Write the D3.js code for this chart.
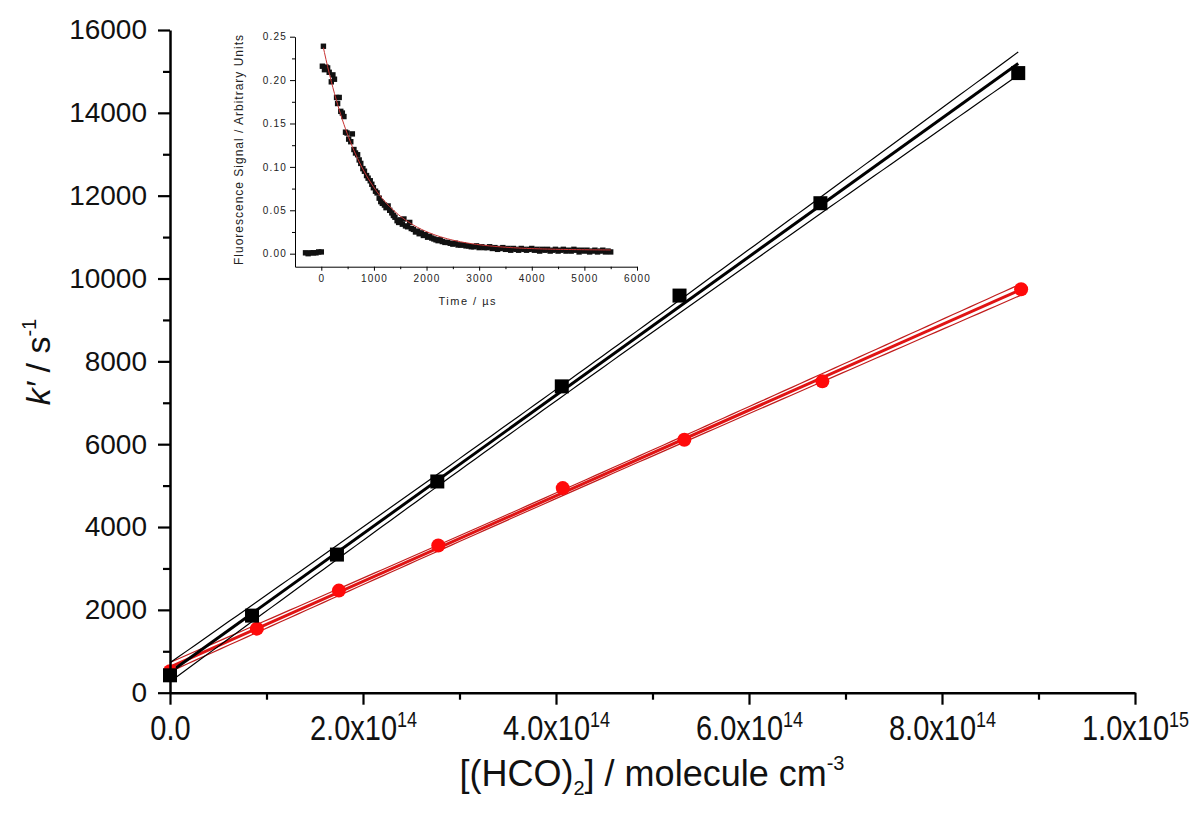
<!DOCTYPE html>
<html>
<head>
<meta charset="utf-8">
<script src="https://cdn.jsdelivr.net/npm/d3@7"></script>
<style>
  body { margin: 0; background: #fff; }
  svg { display: block; font-family: Arial, "Liberation Sans", sans-serif; }
</style>
</head>
<body>
<svg id="chart" width="1190" height="818"></svg>
<script>
// main plot: k' vs [(HCO)2]
const concBlack = [0, 0.85e14, 1.73e14, 2.77e14, 4.06e14, 5.28e14, 6.74e14, 8.79e14];
const kBlack = [420, 1861, 3335, 5100, 7396, 9588, 11818, 14960];
const concRed = [0, 0.90e14, 1.75e14, 2.78e14, 4.07e14, 5.33e14, 6.76e14, 8.82e14];
const kRed = [520, 1547, 2465, 3553, 4940, 6108, 7517, 9740];

const yTicks = [0, 2000, 4000, 6000, 8000, 10000, 12000, 14000, 16000];
const yMinor = [1000, 3000, 5000, 7000, 9000, 11000, 13000, 15000];
const xTicks = [0, 2e14, 4e14, 6e14, 8e14, 1e15];
const xTickLabels = [["0.0", ""], ["2.0x10", "14"], ["4.0x10", "14"], ["6.0x10", "14"], ["8.0x10", "14"], ["1.0x10", "15"]];
const xMinor = [1e14, 3e14, 5e14, 7e14, 9e14];

// inset: fluorescence decay trace
const decayTrace = [
  [-300,0.001],[-250,0.000],[-200,0.001],[-150,0.001],[-100,0.001],[-50,0.002],[0,0.002],
  [20,0.216],[40,0.239],[60,0.212],[90,0.215],[120,0.214],[150,0.209],[190,0.198],[220,0.206],
  [250,0.201],[290,0.180],[310,0.173],[340,0.180],[370,0.164],[400,0.162],[430,0.158],[460,0.140],
  [490,0.139],[520,0.132],[560,0.129],[590,0.138],[620,0.120],[650,0.116],[690,0.114],[720,0.108],
  [750,0.104],[790,0.098],[820,0.095],[860,0.090],[890,0.087],[930,0.084],[960,0.080],[990,0.076],
  [1030,0.072],[1060,0.070],[1100,0.064],[1130,0.060],[1160,0.058],[1200,0.056],[1230,0.053],
  [1270,0.055],[1300,0.050],[1340,0.047],[1370,0.044],[1400,0.042],[1440,0.038],[1470,0.036],
  [1500,0.039],[1540,0.034],[1570,0.040],[1600,0.032],[1640,0.031],[1680,0.036],[1710,0.029],
  [1750,0.028],[1790,0.025],[1830,0.026],[1860,0.023],[1900,0.024],[1940,0.021],[1980,0.022],
  [2020,0.019],[2060,0.020],[2100,0.018],[2140,0.017],[2180,0.016],[2220,0.015],[2260,0.016],
  [2300,0.014],[2350,0.013],[2400,0.013],[2450,0.012],[2500,0.011],[2550,0.012],[2600,0.010],
  [2650,0.010],[2700,0.010],[2750,0.009],[2800,0.009],[2850,0.008],[2900,0.008],[2950,0.009],
  [3000,0.007],[3050,0.008],[3100,0.007],[3150,0.007],[3200,0.008],[3250,0.006],[3300,0.007],
  [3350,0.005],[3400,0.006],[3450,0.007],[3500,0.005],[3550,0.006],[3600,0.004],[3650,0.006],
  [3700,0.005],[3750,0.004],[3800,0.006],[3850,0.005],[3900,0.004],[3950,0.005],[4000,0.006],
  [4050,0.004],[4100,0.005],[4150,0.003],[4200,0.005],[4250,0.004],[4300,0.005],[4350,0.003],
  [4400,0.004],[4450,0.005],[4500,0.003],[4550,0.004],[4600,0.005],[4650,0.003],[4700,0.004],
  [4750,0.003],[4800,0.005],[4850,0.004],[4900,0.002],[4950,0.004],[5000,0.003],[5050,0.004],
  [5100,0.002],[5150,0.003],[5200,0.004],[5250,0.002],[5300,0.003],[5350,0.004],[5400,0.002],
  [5450,0.003],[5500,0.002]
];
// single-exponential fit parameters
const decayA = 0.245, decayTau = 820, decayBase = 0.004;
const insetYTicks = [0, 0.05, 0.10, 0.15, 0.20, 0.25];
const insetYMinor = [0.025, 0.075, 0.125, 0.175, 0.225];
const insetXTicks = [0, 1000, 2000, 3000, 4000, 5000, 6000];
const insetXMinor = [500, 1500, 2500, 3500, 4500, 5500];

const svg = d3.select("#chart");
svg.append("rect").attr("width", 1190).attr("height", 818).attr("fill", "#fff");

const x = d3.scaleLinear().domain([0, 1e15]).range([170, 1135]);
const y = d3.scaleLinear().domain([0, 16000]).range([692.7, 30]);

// linear least squares with 95% confidence band
function linFit(xs, ys) {
  const n = xs.length;
  const mx = d3.mean(xs), my = d3.mean(ys);
  let sxx = 0, sxy = 0;
  xs.forEach((v, i) => { sxx += (v - mx) ** 2; sxy += (v - mx) * (ys[i] - my); });
  const b = sxy / sxx, a = my - b * mx;
  let ss = 0;
  xs.forEach((v, i) => { ss += (ys[i] - a - b * v) ** 2; });
  const s = Math.sqrt(ss / (n - 2));
  const t = 2.447; // t(0.975, 6)
  const half = v => t * s * Math.sqrt(1 / n + (v - mx) ** 2 / sxx);
  return { a, b, half, xmax: d3.max(xs) };
}

function drawFit(xs, ys, color, mainW, bandColor) {
  const f = linFit(xs, ys);
  const pts = d3.range(0, 101).map(i => f.xmax * i / 100);
  const line = d3.line().x(d => x(d[0])).y(d => y(d[1]));
  svg.append("path").datum(pts.map(v => [v, f.a + f.b * v + f.half(v)]))
    .attr("d", line).attr("fill", "none").attr("stroke", bandColor).attr("stroke-width", 1.2);
  svg.append("path").datum(pts.map(v => [v, f.a + f.b * v - f.half(v)]))
    .attr("d", line).attr("fill", "none").attr("stroke", bandColor).attr("stroke-width", 1.2);
  svg.append("path").datum([[0, f.a], [f.xmax, f.a + f.b * f.xmax]])
    .attr("d", line).attr("fill", "none").attr("stroke", color).attr("stroke-width", mainW);
}

drawFit(concRed, kRed, "#e01414", 3, "#c01c1c");
drawFit(concBlack, kBlack, "#000", 3, "#000");

svg.append("g").selectAll("circle").data(concRed).enter().append("circle")
  .attr("cx", d => x(d)).attr("cy", (d, i) => y(kRed[i])).attr("r", 7)
  .attr("fill", "#ff0a0a");
svg.append("g").selectAll("rect").data(concBlack).enter().append("rect")
  .attr("x", d => x(d) - 7).attr("y", (d, i) => y(kBlack[i]) - 7)
  .attr("width", 14).attr("height", 14).attr("fill", "#000");

// axes
const yAx = svg.append("g").attr("transform", "translate(170,0)")
  .call(d3.axisLeft(y).tickValues(yTicks).tickSize(12).tickPadding(11).tickFormat(d3.format("d")).tickSizeOuter(0));
yAx.selectAll("text").attr("font-size", "28px").attr("fill", "#111");
svg.append("g").attr("transform", "translate(170,0)")
  .call(d3.axisLeft(y).tickValues(yMinor).tickSize(7).tickFormat("").tickSizeOuter(0))
  .select(".domain").remove();

const xAx = svg.append("g").attr("transform", "translate(0,692.7)")
  .call(d3.axisBottom(x).tickValues(xTicks).tickSize(12).tickSizeOuter(0));
xAx.selectAll("text").each(function(d, i) {
  const t = d3.select(this).text(null).attr("y", 0).attr("dy", 0)
    .attr("transform", "translate(0,47) scale(1,1.2)").attr("font-size", "29px").attr("fill", "#111");
  t.append("tspan").text(xTickLabels[i][0]);
  if (xTickLabels[i][1]) t.append("tspan").attr("dy", -11).attr("font-size", "18px").text(xTickLabels[i][1]);
});
svg.append("g").attr("transform", "translate(0,692.7)")
  .call(d3.axisBottom(x).tickValues(xMinor).tickSize(7).tickFormat("").tickSizeOuter(0))
  .select(".domain").remove();

svg.selectAll(".domain").attr("stroke-width", 2.5);
svg.selectAll(".tick line").attr("stroke-width", 2.2);

// axis titles
const yt = svg.append("text").attr("transform", "translate(50,362) rotate(-90)")
  .attr("text-anchor", "middle").attr("font-size", "34px").attr("fill", "#111");
yt.append("tspan").attr("font-style", "italic").text("k′");
yt.append("tspan").text(" / s");
yt.append("tspan").attr("dy", -14).attr("font-size", "20px").text("-1");

const xt = svg.append("text").attr("x", 652).attr("y", 786)
  .attr("text-anchor", "middle").attr("font-size", "36px").attr("fill", "#111");
xt.append("tspan").text("[(HCO)");
xt.append("tspan").attr("dy", 9).attr("font-size", "20px").text("2");
xt.append("tspan").attr("dy", -9).text("] / molecule cm");
xt.append("tspan").attr("dy", -16).attr("font-size", "20px").text("-3");

// inset
const xi = d3.scaleLinear().domain([-500, 6000]).range([295, 637]);
const yi = d3.scaleLinear().domain([-0.015, 0.25]).range([266.7, 36.7]);

const inset = svg.append("g");
inset.append("g").selectAll("rect").data(decayTrace).enter().append("rect")
  .attr("x", d => xi(d[0]) - 2.7).attr("y", d => yi(d[1]) - 2.7)
  .attr("width", 5.4).attr("height", 5.4).attr("fill", "#111");
const fitPts = decayTrace.filter(d => d[0] > 30).map(d => [d[0], decayBase + decayA * Math.exp(-d[0] / decayTau)]);
inset.append("path").datum(fitPts)
  .attr("d", d3.line().x(d => xi(d[0])).y(d => yi(d[1])))
  .attr("fill", "none").attr("stroke", "#c83232").attr("stroke-width", 1);

inset.append("g").attr("transform", "translate(295,0)")
  .call(d3.axisLeft(yi).tickValues(insetYTicks).tickSize(5).tickPadding(3).tickFormat(d3.format(".2f")).tickSizeOuter(0));
inset.append("g").attr("transform", "translate(295,0)")
  .call(d3.axisLeft(yi).tickValues(insetYMinor).tickSize(3).tickFormat("").tickSizeOuter(0))
  .select(".domain").remove();
const ix = inset.append("g").attr("transform", "translate(0,266.7)")
  .call(d3.axisBottom(xi).tickValues(insetXTicks).tickSize(4).tickFormat(d3.format("d")).tickSizeOuter(0));
ix.selectAll("text").attr("y", 15.5).attr("dy", 0);
inset.append("g").attr("transform", "translate(0,266.7)")
  .call(d3.axisBottom(xi).tickValues(insetXMinor).tickSize(2.5).tickFormat("").tickSizeOuter(0))
  .select(".domain").remove();
inset.selectAll("text").attr("font-size", "10px").attr("letter-spacing", "1.2px").attr("fill", "#222");
inset.selectAll(".domain, .tick line").attr("stroke-width", 1);

inset.append("text").attr("transform", "translate(243,150) rotate(-90)")
  .attr("text-anchor", "middle").attr("font-size", "12px").attr("fill", "#222")
  .attr("textLength", 230).attr("lengthAdjust", "spacing")
  .text("Fluorescence Signal / Arbitrary Units");
inset.append("text").attr("x", 467).attr("y", 305)
  .attr("text-anchor", "middle").attr("font-size", "11px").attr("fill", "#222")
  .attr("textLength", 57).attr("lengthAdjust", "spacing")
  .text("Time / µs");
</script>
</body>
</html>
